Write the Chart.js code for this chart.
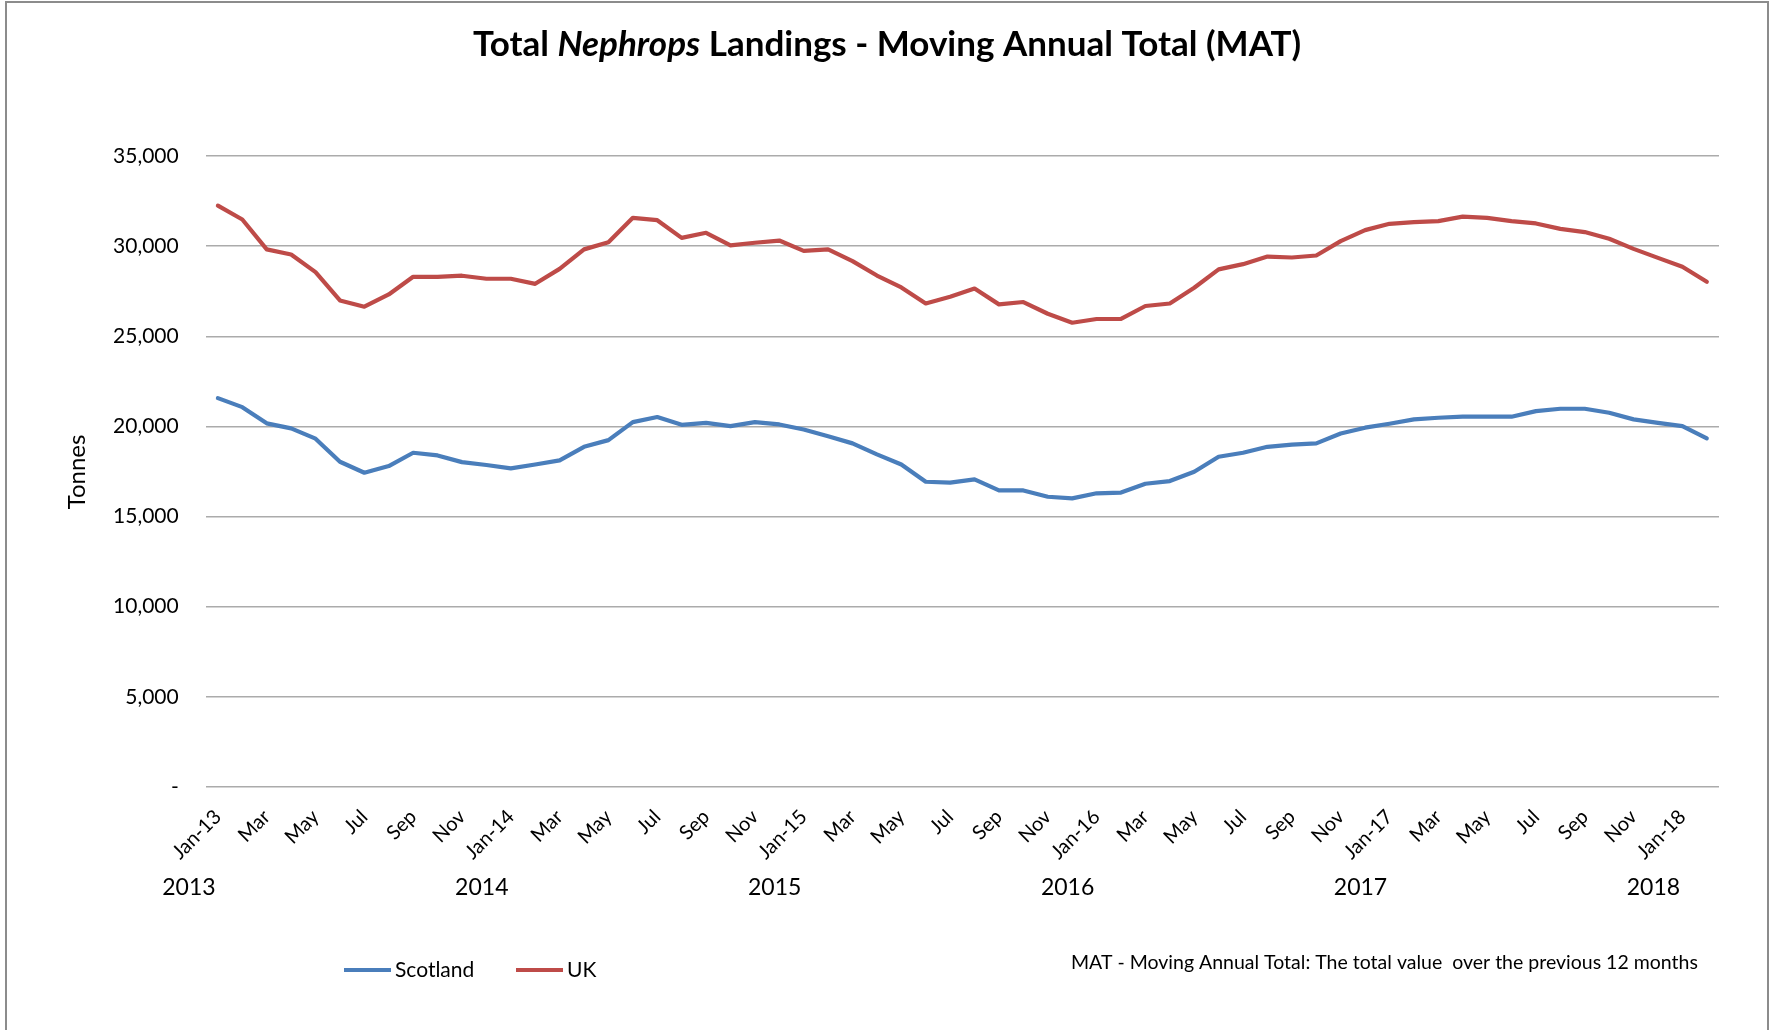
<!DOCTYPE html>
<html>
<head>
<meta charset="utf-8">
<script src="https://cdn.jsdelivr.net/npm/chart.js@4.4.1/dist/chart.umd.min.js"></script>
<style>
  html, body { margin: 0; padding: 0; background: #fff; overflow: hidden; }
  #wrap { position: relative; width: 1775px; height: 1030px; }
  #frame { position: absolute; left: 5px; top: 1px; width: 1764px; height: 1100px; border: 2px solid #8c8c8c; box-sizing: border-box; }
  canvas { position: absolute; left: 0; top: 0; }
</style>
</head>
<body>
<div id="wrap">
  <div id="frame"></div>
  <canvas id="matChart" width="1775" height="1030"></canvas>
</div>
<script>
// months Jan-13 .. Feb-18
const categories = [
  'Jan-13','Feb-13','Mar-13','Apr-13','May-13','Jun-13','Jul-13','Aug-13','Sep-13','Oct-13','Nov-13','Dec-13',
  'Jan-14','Feb-14','Mar-14','Apr-14','May-14','Jun-14','Jul-14','Aug-14','Sep-14','Oct-14','Nov-14','Dec-14',
  'Jan-15','Feb-15','Mar-15','Apr-15','May-15','Jun-15','Jul-15','Aug-15','Sep-15','Oct-15','Nov-15','Dec-15',
  'Jan-16','Feb-16','Mar-16','Apr-16','May-16','Jun-16','Jul-16','Aug-16','Sep-16','Oct-16','Nov-16','Dec-16',
  'Jan-17','Feb-17','Mar-17','Apr-17','May-17','Jun-17','Jul-17','Aug-17','Sep-17','Oct-17','Nov-17','Dec-17',
  'Jan-18','Feb-18'
];

// shown under the axis (every other month)
const xTickLabels = [
  'Jan-13','','Mar','','May','','Jul','','Sep','','Nov','',
  'Jan-14','','Mar','','May','','Jul','','Sep','','Nov','',
  'Jan-15','','Mar','','May','','Jul','','Sep','','Nov','',
  'Jan-16','','Mar','','May','','Jul','','Sep','','Nov','',
  'Jan-17','','Mar','','May','','Jul','','Sep','','Nov','',
  'Jan-18',''
];

const yearLabels = ['2013', '2014', '2015', '2016', '2017', '2018'];
const yearStarts = ['Jan-13', 'Jan-14', 'Jan-15', 'Jan-16', 'Jan-17', 'Jan-18'];

const scotland = [
  21570, 21070, 20170, 19890, 19320, 18040, 17430, 17800, 18540, 18390, 18020, 17860,
  17670, 17890, 18120, 18870, 19240, 20240, 20520, 20090, 20200, 20020, 20240, 20110,
  19830, 19460, 19060, 18450, 17890, 16930, 16880, 17060, 16450, 16450, 16100, 16010,
  16290, 16330, 16820, 16970, 17490, 18320, 18540, 18870, 18990, 19060, 19610, 19930,
  20150, 20390, 20480, 20540, 20540, 20540, 20850, 20980, 20980, 20760, 20390, 20200,
  20020, 19340
];

const uk = [
  32250, 31480, 29820, 29540, 28560, 26990, 26640, 27320, 28300, 28300, 28360, 28190,
  28190, 27910, 28740, 29820, 30220, 31570, 31440, 30460, 30740, 30040, 30190, 30310,
  29740, 29820, 29170, 28370, 27710, 26820, 27190, 27650, 26770, 26900, 26250, 25750,
  25960, 25960, 26680, 26820, 27690, 28710, 29000, 29420, 29370, 29480, 30280, 30890,
  31240, 31330, 31390, 31640, 31570, 31390, 31260, 30960, 30780, 30410, 29850, 29350,
  28860, 28020
];

const FONT = 'Lato';

// title, axis title, years, legend and note
const extras = {
  id: 'extras',
  afterDraw(chart) {
    const ctx = chart.ctx;
    const xs = chart.scales.x;
    ctx.save();
    ctx.fillStyle = '#000';

    // title with italic Nephrops
    const parts = [
      ['Total ', 'bold 35px ' + FONT],
      ['Nephrops', 'italic bold 35px ' + FONT],
      [' Landings - Moving Annual Total (MAT)', 'bold 35px ' + FONT]
    ];
    let total = 0;
    parts.forEach(p => { ctx.font = p[1]; total += ctx.measureText(p[0]).width; });
    let tx = 887 - total / 2;
    ctx.textAlign = 'left';
    ctx.textBaseline = 'alphabetic';
    parts.forEach(p => {
      ctx.font = p[1];
      ctx.fillText(p[0], tx, 56);
      tx += ctx.measureText(p[0]).width;
    });

    // y axis title
    ctx.save();
    ctx.translate(77, 472);
    ctx.rotate(-Math.PI / 2);
    ctx.font = '24px ' + FONT;
    ctx.textAlign = 'center';
    ctx.textBaseline = 'middle';
    ctx.fillText('Tonnes', 0, 0);
    ctx.restore();

    // year row
    ctx.font = '23px ' + FONT;
    ctx.textAlign = 'center';
    ctx.textBaseline = 'middle';
    yearLabels.forEach((yr, i) => {
      const px = xs.getPixelForValue(categories.indexOf(yearStarts[i]));
      ctx.fillText(yr, px - 29, 888);
    });

    // legend
    const legendX = [344, 516];
    ctx.font = '21px ' + FONT;
    ctx.textAlign = 'left';
    chart.data.datasets.forEach((ds, i) => {
      ctx.strokeStyle = ds.borderColor;
      ctx.lineWidth = 4;
      ctx.beginPath();
      ctx.moveTo(legendX[i], 970);
      ctx.lineTo(legendX[i] + 47, 970);
      ctx.stroke();
      ctx.fillText(ds.label, legendX[i] + 51, 970);
    });

    // note
    ctx.font = '19.5px ' + FONT;
    ctx.fillText('MAT - Moving Annual Total: The total value  over the previous 12 months', 1071, 963);
    ctx.restore();
  }
};

new Chart(document.getElementById('matChart'), {
  type: 'line',
  data: {
    labels: categories,
    datasets: [
      { label: 'Scotland', data: scotland, borderColor: '#4a7ebb', backgroundColor: '#4a7ebb' },
      { label: 'UK', data: uk, borderColor: '#be4b48', backgroundColor: '#be4b48' }
    ]
  },
  options: {
    responsive: false,
    animation: false,
    devicePixelRatio: 1,
    layout: { padding: { left: 0, right: 56, top: 156, bottom: 143 } },
    plugins: {
      legend: { display: false },
      title: { display: false },
      tooltip: { enabled: false }
    },
    elements: {
      point: { radius: 0 },
      line: { tension: 0, borderWidth: 4.2, borderJoinStyle: 'round', borderCapStyle: 'round' }
    },
    scales: {
      x: {
        offset: true,
        grid: { display: false },
        border: { display: false },
        ticks: {
          autoSkip: false,
          maxRotation: 45,
          minRotation: 45,
          padding: 10,
          color: '#000',
          font: { family: FONT, size: 20 },
          callback: (v, i) => xTickLabels[i]
        },
        afterFit: s => { s.height = 100; }
      },
      y: {
        min: 0,
        max: 35000,
        grid: { color: '#ababab', lineWidth: 1.5, drawTicks: false },
        border: { display: false },
        ticks: {
          stepSize: 5000,
          padding: 27,
          color: '#000',
          font: { family: FONT, size: 21 },
          callback: v => v === 0 ? '-' : v.toLocaleString('en-US')
        },
        afterFit: s => { s.width = 205.7; }
      }
    }
  },
  plugins: [extras]
});
</script>
</body>
</html>
